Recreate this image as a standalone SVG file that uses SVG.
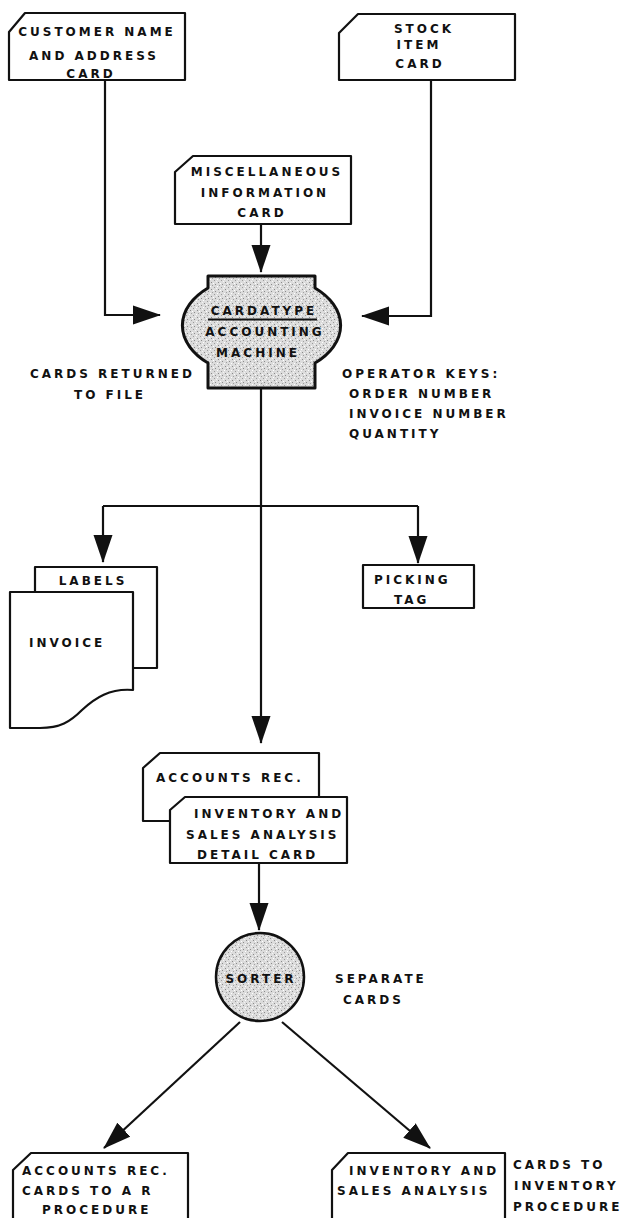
<svg xmlns="http://www.w3.org/2000/svg" width="627" height="1218" viewBox="0 0 627 1218">
<style>
.t{font-family:"DejaVu Sans","Liberation Sans",sans-serif;font-weight:bold;font-size:12px;letter-spacing:3px;fill:#111}
.m{text-anchor:middle}
.card{fill:#fff;stroke:#111;stroke-width:2.2;stroke-linejoin:round}
.proc{fill:url(#stip);stroke:#111;stroke-width:3;stroke-linejoin:round}
.ln{fill:none;stroke:#111;stroke-width:2.2}
.ar{marker-end:url(#ah)}
</style>
<defs>
<pattern id="stip" width="7" height="7" patternUnits="userSpaceOnUse">
<rect width="7" height="7" fill="#dcdcdc"/>
<rect x="1" y="2" width="1" height="1" fill="#8a8a8a"/>
<rect x="4" y="0" width="1" height="1" fill="#9a9a9a"/>
<rect x="5" y="4" width="1" height="1" fill="#8a8a8a"/>
<rect x="2" y="5" width="1" height="1" fill="#a0a0a0"/>
<rect x="0" y="6" width="1" height="1" fill="#fff"/>
<rect x="3" y="3" width="1" height="1" fill="#fff"/>
<rect x="6" y="1" width="1" height="1" fill="#f4f4f4"/>
</pattern>
<marker id="ah" markerUnits="userSpaceOnUse" viewBox="0 0 28 20" markerWidth="28" markerHeight="20" refX="27" refY="10" orient="auto">
<path d="M0,0.5 L28,10 L0,19.5 Z" fill="#111"/>
</marker>
</defs>
<rect width="627" height="1218" fill="#fff"/>

<g id="connectors">
<path class="ln ar" d="M105,80 V315 H160"/>
<path class="ln ar" d="M431,80 V316 H362"/>
<path class="ln ar" d="M261,224 V272"/>
<path class="ln ar" d="M261,388 V743"/>
<path class="ln" d="M103,506 H418"/>
<path class="ln ar" d="M103,506 V562"/>
<path class="ln ar" d="M418,506 V563"/>
<path class="ln ar" d="M259,863 V930"/>
<path class="ln ar" d="M240,1022 L104,1148"/>
<path class="ln ar" d="M282,1022 L430,1148"/>
</g>

<g id="customer-card">
<path class="card" d="M25,13 H185 V80 H9 V32 Z"/>
<text class="t m" x="97" y="36">CUSTOMER NAME</text>
<text class="t m" x="94" y="60">AND ADDRESS</text>
<text class="t m" x="91" y="78">CARD</text>
</g>

<g id="stock-card">
<path class="card" d="M358,14 H515 V80 H339 V33 Z"/>
<text class="t m" x="424" y="33">STOCK</text>
<text class="t m" x="419" y="49">ITEM</text>
<text class="t m" x="420" y="68">CARD</text>
</g>

<g id="misc-card">
<path class="card" d="M193,156 H351 V224 H175 V172 Z"/>
<text class="t m" x="267" y="176">MISCELLANEOUS</text>
<text class="t m" x="265" y="197">INFORMATION</text>
<text class="t m" x="262" y="217">CARD</text>
</g>

<g id="accounting-machine">
<path class="proc" d="M208,276 H315 V288 A79.5,51 0 0 1 315,363 V388 H208 V363 A79.5,51 0 0 1 208,288 Z"/>
<text class="t m" x="264" y="315">CARDATYPE</text>
<line x1="208" y1="319.5" x2="317" y2="319.5" stroke="#111" stroke-width="2"/>
<text class="t m" x="265" y="336">ACCOUNTING</text>
<text class="t m" x="258" y="357">MACHINE</text>
</g>

<g id="note-cards-returned">
<text class="t" x="30" y="378">CARDS RETURNED</text>
<text class="t" x="74" y="399">TO FILE</text>
</g>

<g id="note-operator-keys">
<text class="t" x="342" y="378">OPERATOR KEYS:</text>
<text class="t" x="349" y="398">ORDER NUMBER</text>
<text class="t" x="349" y="418">INVOICE NUMBER</text>
<text class="t" x="349" y="438">QUANTITY</text>
</g>

<g id="labels-doc">
<path class="card" d="M35,592 V567 H157 V668 H133"/>
<text class="t m" x="93" y="585">LABELS</text>
</g>

<g id="invoice-doc">
<path class="card" d="M10,592 H133 V690 C110,688 95,698 82,710 C70,722 60,728 40,728 H10 Z"/>
<text class="t" x="29" y="647">INVOICE</text>
</g>

<g id="picking-tag">
<rect class="card" x="363" y="565" width="111" height="43"/>
<text class="t" x="374" y="584">PICKING</text>
<text class="t" x="394" y="604">TAG</text>
</g>

<g id="accounts-rec-card">
<path class="card" d="M160,753 H319 V821 H143 V768 Z"/>
<text class="t" x="156" y="782">ACCOUNTS REC.</text>
</g>

<g id="inventory-detail-card">
<path class="card" d="M185,797 H347 V863 H170 V810 Z"/>
<text class="t" x="194" y="818">INVENTORY AND</text>
<text class="t" x="186" y="839">SALES ANALYSIS</text>
<text class="t" x="197" y="859">DETAIL CARD</text>
</g>

<g id="sorter">
<circle cx="260" cy="977" r="44" fill="url(#stip)" stroke="#111" stroke-width="2.5"/>
<text class="t m" x="261" y="983">SORTER</text>
</g>

<g id="note-separate">
<text class="t" x="335" y="983">SEPARATE</text>
<text class="t" x="343" y="1004">CARDS</text>
</g>

<g id="ar-cards">
<path class="card" d="M31,1153 H188 V1230 H13 V1170 Z"/>
<text class="t" x="22" y="1175">ACCOUNTS REC.</text>
<text class="t" x="22" y="1195">CARDS TO A R</text>
<text class="t" x="42" y="1214">PROCEDURE</text>
</g>

<g id="inventory-cards">
<path class="card" d="M348,1153 H505 V1230 H332 V1170 Z"/>
<text class="t" x="349" y="1175">INVENTORY AND</text>
<text class="t" x="337" y="1195">SALES ANALYSIS</text>
</g>

<g id="note-cards-to-inventory">
<text class="t" x="513" y="1169">CARDS TO</text>
<text class="t" x="514" y="1190">INVENTORY</text>
<text class="t" x="513" y="1211">PROCEDURE</text>
</g>
</svg>
